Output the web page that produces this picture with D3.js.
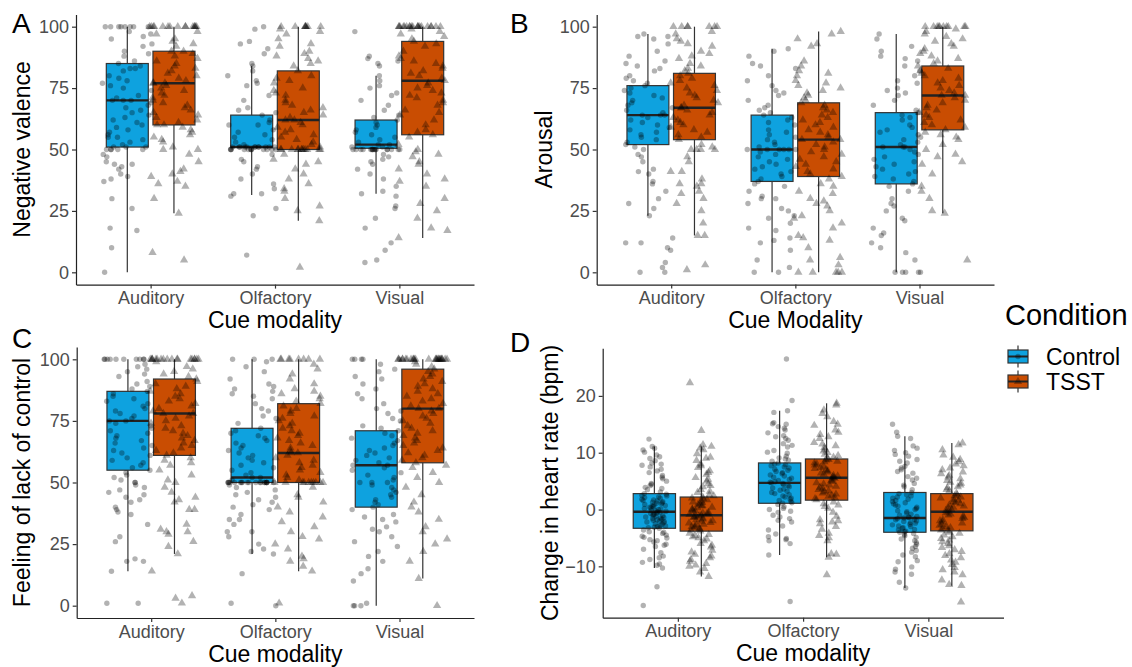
<!DOCTYPE html>
<html>
<head>
<meta charset="utf-8">
<script src="https://cdn.jsdelivr.net/npm/d3@7"></script>
<style>
  html, body { margin: 0; padding: 0; background: #fff; }
  svg { display: block; font-family: "Liberation Sans", Arial, Helvetica, sans-serif; }
</style>
</head>
<body>
<svg id="chart" width="1132" height="667"></svg>
<script>
// ---------------- DATA ----------------
const modalities = ["Auditory", "Olfactory", "Visual"];
const conditions = ["Control", "TSST"];
const condColors = ["#0EA2DF", "#C94D02"];

// Box stats per modality: [lower whisker, Q1, median, Q3, upper whisker]
const valenceControlBoxes = [[0, 51, 70, 85, 100], [31.5, 51, 51, 64, 84], [32, 50.5, 52, 62, 80]];
const valenceTSSTBoxes    = [[24, 60, 77, 90, 100], [21, 50, 62, 82, 100], [14, 56, 78, 94, 100]];
const arousalControlBoxes = [[23, 52, 64, 76, 97], [0, 37, 50, 64, 91], [0, 36, 51, 65, 97]];
const arousalTSSTBoxes    = [[15, 54, 67, 81, 100], [0, 39, 54, 69, 98], [24, 58, 72, 84, 100]];
const controlControlBoxes = [[14, 55, 75, 87, 100], [21, 50, 52, 72, 100], [0, 40, 57, 71, 100]];
const controlTSSTBoxes    = [[21, 61, 78, 92, 100], [14, 50, 62, 82, 100], [11, 58, 80, 96, 100]];
const hrControlBoxes      = [[-10.3, -3.3, -0.4, 2.8, 11.1], [-8.0, 1.1, 4.7, 8.2, 17.4], [-13.8, -4.0, -1.5, 3.0, 12.9]];
const hrTSSTBoxes         = [[-11.8, -3.8, -1.0, 2.2, 11.1], [-8.4, 1.65, 5.6, 8.9, 18.7], [-13.4, -3.75, -0.4, 2.8, 11.7]];

// Individual ratings, per modality
const valenceControlPts = [
  [100,100,100,100,100,100,100,100,98,97,96,95,93,92,90,89,88,86,85,84,83,83,82,80,79,78,77,76,75,74,72,71,70,70,70,69,68,67,66,65,64,63,62,61,60,59,58,57,56,55,55,54,53,52,51,51,51,50,50,50,50,50,48,47,45,44,44,43,42,40,39,38,37,30,26,18,17,10,0],
  [100,99,94,93,91,89,85,84,82,80,78,77,76,72,70,67,66,65,64,62,61,60,60,58,57,56,55,54,53,52,51,51,51,51,51,51,51,51,51,51,51,51,50,50,50,50,50,50,50,50,50,50,50,50,48,46,45,43,42,40,38,36,34,32,32,31,26,23,7],
  [98,88,87,86,85,84,80,78,76,75,73,72,70,68,66,64,63,62,61,60,59,58,57,56,55,54,53,52,52,51,51,50,50,50,50,50,50,50,50,50,50,50,50,50,50,50,50,48,47,46,45,44,42,40,38,35,33,32,31,27,26,22,18,12,9,5,4]
];
const valenceTSSTPts = [
  [100,100,100,100,100,100,100,100,100,100,100,100,100,100,100,98,97,95,94,93,92,90,90,89,88,87,86,85,84,83,82,81,80,79,78,77,77,77,76,75,74,73,72,71,70,69,68,67,66,65,64,63,62,61,60,60,59,58,57,56,55,54,53,51,50,50,48,45,42,41,40,39,37,36,35,30,24,8,5],
  [100,100,100,100,100,100,100,100,99,98,97,95,93,92,90,89,88,87,86,85,84,82,80,79,78,77,75,74,73,72,70,69,68,67,66,65,64,63,62,62,61,60,59,58,57,56,55,54,53,52,51,50,50,50,50,50,50,50,50,50,50,50,50,48,46,45,44,42,40,38,36,34,33,30,27,25,21,2],
  [100,100,100,100,100,100,100,100,100,100,100,100,100,100,100,100,100,100,100,100,99,98,97,96,95,94,93,92,90,88,87,86,85,84,83,82,81,80,79,78,77,76,75,74,73,72,71,70,69,68,66,65,64,62,60,58,57,56,55,52,50,49,48,47,45,44,42,40,38,37,35,30,28,25,22,18,17,14]
];
const arousalControlPts = [
  [97,96,96,95,93,90,88,86,85,84,83,82,80,79,78,77,76,75,74,73,72,71,70,69,68,67,66,65,64,64,64,63,62,61,60,59,58,57,56,55,54,53,52,51,50,48,47,45,42,41,40,37,36,33,30,28,26,23,14,12,12,10,9,4,2,0,0],
  [91,90,88,85,84,83,80,78,76,74,73,72,70,68,67,66,65,64,63,62,61,60,58,57,56,55,54,53,52,51,50,50,50,50,50,50,49,48,47,46,45,44,43,42,41,40,39,38,37,36,35,33,31,30,30,28,26,25,23,22,20,18,17,14,13,12,9,5,2,0,0],
  [97,95,92,90,88,87,86,84,82,80,78,77,75,74,73,72,70,68,66,65,64,63,62,60,59,58,57,56,55,54,53,52,51,51,51,50,49,48,47,46,45,44,43,42,41,40,39,38,37,36,35,33,30,28,27,25,22,21,18,16,15,12,10,8,5,0,0,0,0,0]
];
const arousalTSSTPts = [
  [100,100,100,100,100,100,100,98,97,95,94,93,92,90,89,88,87,85,84,83,82,81,80,79,78,77,76,75,74,73,72,71,70,69,68,67,67,66,65,64,63,62,61,60,59,58,57,56,55,54,52,51,50,50,50,50,47,45,41,41,38,36,36,35,33,32,30,28,25,20,15,15,3,1],
  [98,97,95,93,92,86,84,82,81,80,78,77,76,75,74,73,72,71,70,69,68,67,66,65,64,63,62,61,60,59,58,57,56,55,54,54,53,52,51,50,49,48,47,46,45,44,43,42,41,40,39,38,36,35,33,32,30,29,28,27,25,23,22,20,18,15,14,13,10,6,5,3,0,0,0,0,0],
  [100,100,100,100,100,100,100,100,100,100,99,98,97,96,95,94,93,92,91,90,89,88,87,86,85,84,83,82,81,80,79,78,77,76,75,74,73,72,72,71,70,69,68,67,66,65,64,63,62,61,60,59,58,57,56,55,54,52,50,48,47,45,44,40,35,33,30,25,24,5]
];
const controlControlPts = [
  [100,100,100,100,100,100,100,100,100,100,98,97,96,95,94,93,91,90,89,88,87,86,85,84,83,82,81,80,79,78,77,76,75,75,74,73,72,71,70,69,68,67,66,65,64,63,62,61,60,59,58,57,56,55,54,53,52,51,50,50,49,48,47,46,45,44,43,42,40,39,38,37,33,28,26,19,18,18,14,1,1],
  [100,100,100,99,97,95,92,90,89,88,87,86,85,84,82,80,79,77,76,74,72,71,70,69,68,67,66,65,64,63,62,61,60,59,58,57,56,55,54,53,52,52,51,50,50,50,50,50,50,50,50,50,50,50,50,50,50,50,50,50,50,50,50,49,48,47,46,45,44,43,42,41,40,39,37,35,35,33,30,30,28,25,23,22,21,13,1,0],
  [100,100,100,100,100,98,96,95,93,92,90,88,86,84,82,80,79,78,76,75,73,72,71,70,69,68,67,66,65,64,63,62,61,60,59,58,57,57,56,55,54,53,52,51,50,50,50,49,48,47,46,45,44,43,42,41,40,39,37,36,35,34,32,31,30,28,26,24,22,20,18,15,13,10,1,0,0,0]
];
const controlTSSTPts = [
  [100,100,100,100,100,100,100,100,100,100,100,100,100,100,100,100,100,100,99,97,96,95,94,93,92,91,90,89,88,87,86,85,84,83,82,81,80,79,78,78,77,76,75,74,73,72,71,70,69,68,67,66,65,64,63,62,61,60,59,58,57,55,53,51,50,48,46,44,43,42,39,39,33,31,30,30,29,26,24,21,14,4,3,1],
  [100,100,100,100,100,100,100,100,98,96,94,92,90,88,87,86,85,84,83,82,81,80,79,78,77,76,75,74,73,72,71,70,69,68,67,66,65,64,63,62,62,61,60,59,58,57,56,55,54,53,52,51,50,50,50,50,50,50,50,50,50,50,48,45,44,42,40,38,36,34,32,30,28,27,25,23,20,19,18,16,14,1],
  [100,100,100,100,100,100,100,100,100,100,100,100,100,100,100,100,100,100,100,100,100,100,100,100,100,99,98,97,96,95,94,93,92,91,90,89,88,87,86,85,84,83,82,81,80,80,79,78,77,76,75,74,73,72,71,70,69,68,67,66,65,64,63,62,61,60,59,58,57,56,54,52,50,48,45,42,40,38,35,32,30,27,25,22,18,11,0]
];
const hrControlPts = [
  [12.4,11.1,10.8,10.1,9.6,9.0,8.6,8.2,7.5,7.1,6.5,6.0,5.4,5.0,4.6,4.2,3.9,3.5,3.1,2.8,2.5,2.2,2.0,1.7,1.5,1.3,1.1,0.9,0.7,0.5,0.3,0.1,-0.1,-0.3,-0.4,-0.5,-0.7,-0.9,-1.1,-1.3,-1.5,-1.7,-1.9,-2.1,-2.3,-2.6,-2.9,-3.1,-3.3,-3.6,-3.9,-4.2,-4.5,-4.9,-5.3,-5.7,-6.1,-6.5,-7.0,-7.6,-8.2,-8.8,-9.3,-9.8,-10.3,-13.6,-16.9,
   2.7,2.4,2.1,1.8,1.6,1.4,1.2,1.0,0.8,0.6,0.4,0.2,0.0,-0.2,-0.6,-0.8,-1.0,-1.2,-1.4,-1.6,-1.8,-2.0,-2.2,-2.5,-2.8,-3.0,-3.2,9.3,7.8,6.8,5.7,4.4,3.7,-4.0,-4.7,-5.0,-5.5,-6.3,-8.5,-9.6,10.5,8.0],
  [26.5,19.2,17.4,17.1,15.3,15.0,14.6,14.0,13.5,12.8,12.2,11.6,11.0,10.4,9.9,9.4,8.9,8.5,8.2,7.9,7.5,7.1,6.7,6.3,5.9,5.5,5.1,4.8,4.7,4.4,4.0,3.6,3.2,2.8,2.4,2.0,1.6,1.2,0.9,0.5,0.0,-0.5,-1.0,-1.6,-2.2,-2.9,-3.6,-4.3,-5.1,-5.3,-6.0,-8.0,-16.2,
   8.0,7.7,7.3,6.9,6.5,6.1,5.7,5.3,4.9,4.6,4.2,3.8,3.4,3.0,2.6,2.2,1.8,1.4,1.1,15.1,14.3,12.5,11.3,10.1,9.1,0.2,-1.3,-1.9,-4.8,-5.5,-0.3,13.0,8.7],
  [15.0,12.9,12.5,11.2,10.8,10.0,9.4,8.8,8.2,7.6,7.0,6.4,5.8,5.2,4.6,4.0,3.5,3.0,2.6,2.2,1.8,1.4,1.0,0.6,0.2,-0.2,-0.6,-1.0,-1.3,-1.5,-1.7,-2.0,-2.3,-2.6,-2.9,-3.2,-3.5,-3.8,-4.0,-4.4,-4.9,-5.5,-6.1,-6.8,-7.5,-8.3,-9.2,-10.1,-10.5,-11.4,-12.8,-13.8,
   2.8,2.4,2.0,1.6,1.2,0.8,0.4,0.0,-0.4,-0.8,-1.2,-1.4,-1.6,-1.8,-2.1,-2.4,-2.7,-3.0,-3.3,-3.6,-3.9,4.3,5.5,6.7,7.3,8.5,9.7,-4.2,-4.6,-5.2,-5.8,-6.5,-7.2,-8.0,-9.0,-11.0,13.6,10.4]
];
const hrTSSTPts = [
  [22.3,13.9,11.4,11.1,10.5,9.8,9.2,8.6,8.0,7.4,6.8,6.2,5.6,5.0,4.5,4.0,3.5,3.0,2.6,2.2,1.9,1.5,1.2,0.9,0.6,0.3,0.0,-0.3,-0.6,-0.8,-1.0,-1.2,-1.4,-1.7,-2.0,-2.3,-2.6,-2.9,-3.2,-3.5,-3.8,-4.2,-4.6,-5.0,-5.5,-6.0,-6.6,-7.2,-7.9,-8.5,-9.1,-9.8,-10.4,-11.0,-11.8,
   2.0,1.7,1.3,1.0,0.7,0.4,0.1,-0.2,-0.5,-0.7,-0.9,-1.1,-1.3,-1.5,-1.8,-2.1,-2.4,-2.7,-3.0,-3.3,-3.6,4.2,5.3,6.5,7.7,9.0,10.8,-4.4,-4.8,-5.2,-6.3,-7.5,-8.2,-8.8,-9.5,-10.0,3.2,2.4],
  [18.7,18.4,16.9,16.3,15.5,14.8,14.0,13.2,12.5,11.8,11.2,10.6,10.0,9.5,9.0,8.7,8.4,8.0,7.6,7.2,6.8,6.4,6.0,5.7,5.6,5.3,4.9,4.5,4.1,3.7,3.3,2.9,2.5,2.1,1.7,1.3,0.8,0.2,-0.5,-1.2,-2.0,-2.5,-3.5,-4.2,-5.0,-5.5,-7.8,-8.4,-11.5,
   8.8,8.5,8.2,7.8,7.4,7.0,6.6,6.2,5.9,5.5,5.1,4.7,4.3,3.9,3.5,3.1,2.7,2.3,1.9,13.6,12.8,11.5,10.9,10.3,9.7,9.2,1.0,0.5,-1.8,-2.2,-3.0,-4.6,-7.9,15.0,17.5],
  [11.7,11.4,10.5,9.6,8.8,8.0,7.3,6.6,6.0,5.4,4.8,4.3,3.8,3.3,2.8,2.4,2.0,1.6,1.2,0.8,0.4,0.0,-0.4,-0.8,-1.2,-1.6,-2.0,-2.4,-2.8,-3.2,-3.75,-4.2,-4.8,-5.4,-6.0,-6.7,-7.4,-8.1,-8.9,-9.7,-10.6,-11.5,-12.4,-13.2,-13.4,-16.3,
   2.6,2.2,1.8,1.4,1.0,0.6,0.2,-0.2,-0.6,-1.0,-1.4,-1.8,-2.2,-2.6,-3.0,-3.4,-3.6,3.5,4.0,4.6,5.1,5.7,6.3,7.0,7.7,8.4,9.2,-4.0,-4.5,-5.1,-5.7,-6.4,-7.1,-7.8,-8.5,-9.3,-10.2,-11.0]
];

const ratingTicks = [0, 25, 50, 75, 100];
const hrTicks = [-10, 0, 10, 20];

// ---------------- LAYOUT ----------------
const panels = [
  { tag: "A", tagX: 12, tagY: 33, x0: 76, x1: 474, yTop: 14.4, yBot: 284.6, domain: [-5, 105], ticks: ratingTicks,
    ytitle: "Negative valence", ytitleX: 30, xtitle: "Cue modality", jitter: 0.2,
    boxes: [valenceControlBoxes, valenceTSSTBoxes], pts: [valenceControlPts, valenceTSSTPts] },
  { tag: "B", tagX: 510, tagY: 33, x0: 596.7, x1: 994, yTop: 14.4, yBot: 284.6, domain: [-5, 105], ticks: ratingTicks,
    ytitle: "Arousal", ytitleX: 552, xtitle: "Cue Modality", jitter: 0.2,
    boxes: [arousalControlBoxes, arousalTSSTBoxes], pts: [arousalControlPts, arousalTSSTPts] },
  { tag: "C", tagX: 12, tagY: 348, x0: 76.7, x1: 474, yTop: 347, yBot: 618, domain: [-5, 105], ticks: ratingTicks,
    ytitle: "Feeling of lack of control", ytitleX: 30, xtitle: "Cue modality", jitter: 0.2,
    boxes: [controlControlBoxes, controlTSSTBoxes], pts: [controlControlPts, controlTSSTPts] },
  { tag: "D", tagX: 510, tagY: 352, x0: 602.7, x1: 1003.5, yTop: 348.3, yBot: 617.7, domain: [-19.04, 28.38], ticks: hrTicks,
    ytitle: "Change in heart rate (bpm)", ytitleX: 558, xtitle: "Cue modality", jitter: 0.1,
    boxes: [hrControlBoxes, hrTSSTBoxes], pts: [hrControlPts, hrTSSTPts] }
];

const svg = d3.select("#chart");
const triangle = d3.symbol().type(d3.symbolTriangle).size(30);
// deterministic horizontal spread for jittered points (layout only)
const spread = (i, a, b) => { const s = Math.sin((i + 1) * 12.9898 + a * 78.233 + b * 37.719) * 43758.5453; return s - Math.floor(s); };

panels.forEach((p, pi) => {
  const g = svg.append("g");
  const x = d3.scalePoint().domain(modalities).range([p.x0, p.x1]).padding(0.6);
  const y = d3.scaleLinear().domain(p.domain).range([p.yBot, p.yTop]);
  const step = x.step();
  const dodge = 0.1875 * step;
  const bw = 0.3375 * step;

  // boxes
  conditions.forEach((c, ci) => {
    modalities.forEach((m, mi) => {
      const s = p.boxes[ci][mi];
      const cx = x(m) + (ci === 0 ? -dodge : dodge);
      g.append("line").attr("x1", cx).attr("x2", cx).attr("y1", y(s[0])).attr("y2", y(s[4]))
        .attr("stroke", "#333").attr("stroke-width", 1.2);
      g.append("rect").attr("x", cx - bw / 2).attr("width", bw)
        .attr("y", y(s[3])).attr("height", y(s[1]) - y(s[3]))
        .attr("fill", condColors[ci]).attr("stroke", "#333").attr("stroke-width", 1.2);
      g.append("line").attr("x1", cx - bw / 2).attr("x2", cx + bw / 2)
        .attr("y1", y(s[2])).attr("y2", y(s[2])).attr("stroke", "#222").attr("stroke-width", 2.4);
    });
  });

  // points
  conditions.forEach((c, ci) => {
    modalities.forEach((m, mi) => {
      const vals = p.pts[ci][mi];
      const cx = x(m) + (ci === 0 ? -dodge : dodge);
      const w = p.jitter * step;
      vals.forEach((v, i) => {
        const f = spread(i, mi + pi * 3, ci);
        const px = cx + (f - 0.5) * 2 * w;
        if (ci === 0) {
          g.append("circle").attr("cx", px).attr("cy", y(v)).attr("r", 2.7)
            .attr("fill", "#000").attr("fill-opacity", 0.3);
        } else {
          g.append("path").attr("d", triangle).attr("transform", `translate(${px},${y(v)})`)
            .attr("fill", "#000").attr("fill-opacity", 0.3);
        }
      });
    });
  });

  // axes
  const yAxis = g.append("g").attr("transform", `translate(${p.x0},0)`)
    .call(d3.axisLeft(y).tickValues(p.ticks).tickSize(4).tickSizeOuter(0).tickPadding(3));
  const xAxis = g.append("g").attr("transform", `translate(0,${p.yBot})`)
    .call(d3.axisBottom(x).tickSize(4).tickSizeOuter(0).tickPadding(3));
  [yAxis, xAxis].forEach(a => {
    a.select(".domain").attr("stroke", "#222").attr("stroke-width", 1.2);
    a.selectAll(".tick line").attr("stroke", "#333").attr("stroke-width", 1.2);
    a.selectAll(".tick text").attr("fill", "#4d4d4d").style("font-size", "18px")
      .style("font-family", "'Liberation Sans', Arial, Helvetica, sans-serif");
  });

  // titles
  g.append("text").attr("transform", `translate(${p.ytitleX},${(p.yTop + p.yBot) / 2}) rotate(-90)`)
    .attr("text-anchor", "middle").style("font-size", "23px").attr("fill", "#000").text(p.ytitle);
  g.append("text").attr("x", (p.x0 + p.x1) / 2).attr("y", p.yBot + 43.5)
    .attr("text-anchor", "middle").style("font-size", "23px").attr("fill", "#000").text(p.xtitle);
  g.append("text").attr("x", p.tagX).attr("y", p.tagY)
    .style("font-size", "28px").attr("fill", "#000").text(p.tag);
});

// legend
const lg = svg.append("g");
lg.append("text").attr("x", 1005).attr("y", 325).style("font-size", "29px").attr("fill", "#000").text("Condition");
conditions.forEach((c, ci) => {
  const cy = 356.5 + ci * 25;
  const kx = 1018;
  lg.append("line").attr("x1", kx).attr("x2", kx).attr("y1", cy - 11).attr("y2", cy + 11)
    .attr("stroke", "#333").attr("stroke-width", 1.2);
  lg.append("rect").attr("x", kx - 10).attr("y", cy - 6.5).attr("width", 20).attr("height", 13)
    .attr("fill", condColors[ci]).attr("stroke", "#333").attr("stroke-width", 1.2);
  lg.append("line").attr("x1", kx - 10).attr("x2", kx + 10).attr("y1", cy).attr("y2", cy)
    .attr("stroke", "#222").attr("stroke-width", 2);
  if (ci === 0) {
    lg.append("circle").attr("cx", kx).attr("cy", cy).attr("r", 2.7).attr("fill", "#000").attr("fill-opacity", 0.3);
  } else {
    lg.append("path").attr("d", triangle).attr("transform", `translate(${kx},${cy})`).attr("fill", "#000").attr("fill-opacity", 0.3);
  }
  lg.append("text").attr("x", 1046).attr("y", cy + 8).style("font-size", "23px").attr("fill", "#000").text(c);
});
</script>
</body>
</html>
